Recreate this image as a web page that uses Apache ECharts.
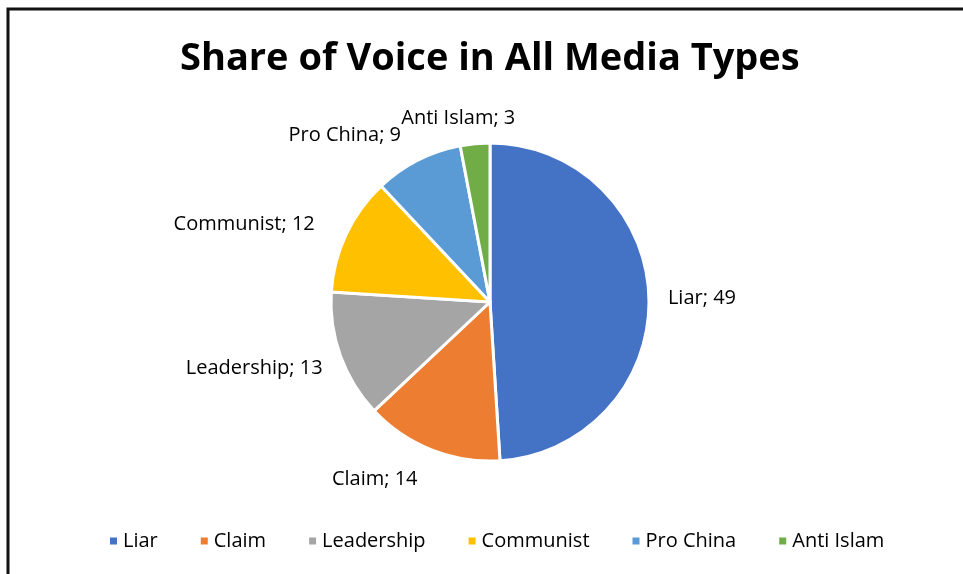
<!DOCTYPE html>
<html>
<head>
<meta charset="utf-8">
<script src="https://cdn.jsdelivr.net/npm/echarts@6/dist/echarts.min.js"></script>
<style>
  html, body { margin: 0; padding: 0; background: #fff; }
  #chart { width: 963px; height: 574px; }
</style>
</head>
<body>
<div id="chart"></div>
<script>
// data
var categories = ['Liar', 'Claim', 'Leadership', 'Communist', 'Pro China', 'Anti Islam'];
var values = [49, 14, 13, 12, 9, 3];
var colors = ['#4472C4', '#ED7D31', '#A5A5A5', '#FFC000', '#5B9BD5', '#70AD47'];

// small nudges so labels sit where Excel put them
var labelShift = [[0, 2], [0, 22], [-4, 10], [-18, -7], [2, -22], [52, -17]];

var chart = echarts.init(document.getElementById('chart'));

var pieData = categories.map(function (name, i) {
  return { name: name, value: values[i] };
});

var option = {
  animation: false,
  color: colors,
  title: {
    text: 'Share of Voice in All Media Types',
    left: 175,
    top: 35,
    textStyle: {
      fontFamily: 'Open Sans',
      fontWeight: 'bold',
      fontSize: 38,
      color: '#000'
    }
  },
  legend: {
    bottom: 18,
    left: 103,
    itemWidth: 9,
    itemHeight: 9,
    itemGap: 41,
    icon: 'rect',
    textStyle: {
      fontFamily: 'Open Sans',
      fontSize: 20,
      color: '#000'
    },
    data: categories
  },
  graphic: [{
    type: 'rect',
    shape: { x: 8, y: 9, width: 1200, height: 1000 },
    style: { fill: 'none', stroke: '#111', lineWidth: 3 }
  }],
  series: [{
    type: 'pie',
    center: [490, 302],
    radius: 159,
    startAngle: 90,
    clockwise: true,
    data: pieData,
    itemStyle: {
      borderColor: '#fff',
      borderWidth: 3
    },
    label: {
      show: true,
      position: 'outside',
      formatter: '{b}; {c}',
      fontFamily: 'Open Sans',
      fontSize: 20,
      color: '#000'
    },
    labelLine: {
      show: false,
      length: 8,
      length2: 6
    },
    labelLayout: function (params) {
      var s = labelShift[params.dataIndex];
      return { dx: s[0], dy: s[1] };
    }
  }]
};

chart.setOption(option);
</script>
</body>
</html>
